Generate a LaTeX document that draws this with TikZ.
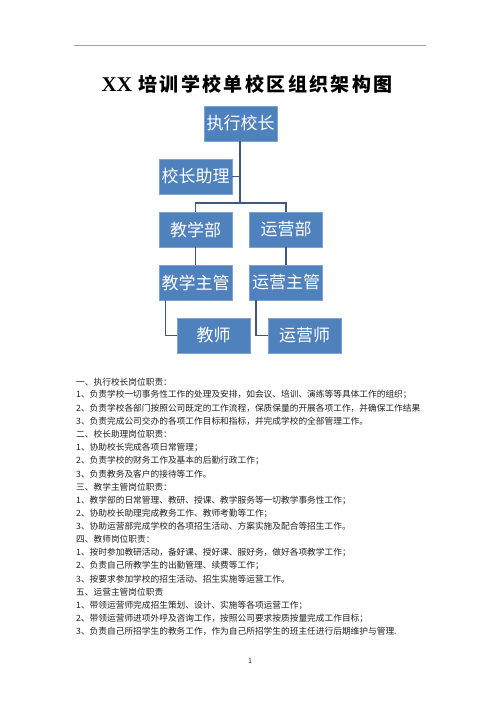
\documentclass[tikz,border=0pt]{standalone}
\usepackage{fontspec}
\setmainfont{Noto Sans CJK SC}
\newfontfamily\cjk{Noto Sans CJK SC}
\newfontfamily\latinserif{Liberation Serif}
\newcommand\titlechar[1]{\makebox[21.4pt]{#1}}
\definecolor{boxblue}{HTML}{4F81BD}
\definecolor{boxedge}{HTML}{7FA3D0}
\definecolor{linkc}{HTML}{3F587E}
\definecolor{bodytext}{HTML}{222222}
\begin{document}
\begin{tikzpicture}[x=1pt,y=-1pt,
  orgbox/.style={rectangle, fill=boxblue, draw=boxedge, line width=0.6pt,
    minimum width=73pt, minimum height=35pt, inner sep=0pt,
    text=white, font=\cjk\fontsize{17}{17}\selectfont},
  link/.style={draw=linkc, line width=1.6pt},
  bodyline/.style={anchor=west, inner sep=0pt, text=bodytext,
    font=\cjk\fontsize{8.7}{8.7}\selectfont}]
\useasboundingbox[fill=white] (0,0) rectangle (500,707);
% top rule
\coordinate (ruleL) at (74,45.7);
\coordinate (ruleR) at (426,45.7);
\draw[gray!70, line width=1pt] (ruleL) -- (ruleR);
% title
\node[inner sep=0pt, anchor=west, text=black] (title) at (101.5,84)
  {{\latinserif\bfseries\fontsize{21}{21}\selectfont XX}\hspace{5pt}{\cjk\bfseries\fontsize{19}{20}\selectfont
   \titlechar{培}\titlechar{训}\titlechar{学}\titlechar{校}\titlechar{单}\titlechar{校}\titlechar{区}\titlechar{组}\titlechar{织}\titlechar{架}\titlechar{构}\titlechar{图}}};
% boxes
\node[orgbox] (ceo) at (240.5,123.5) {执行校长};
\node[orgbox] (asst) at (195.5,176.5) {校长助理};
\node[orgbox] (tdept) at (195.5,229.5) {教学部};
\node[orgbox] (odept) at (286,229.5) {运营部};
\node[orgbox] (tmgr) at (195.5,282.5) {教学主管};
\node[orgbox] (omgr) at (286,282.5) {运营主管};
\node[orgbox] (teacher) at (213.5,335.5) {教师};
\node[orgbox] (ostaff) at (304.5,335.5) {运营师};
% connectors
\coordinate (branch) at (240,203);
\draw[link] (ceo.south -| branch) -- (branch);
\draw[link] (asst.east) -- (asst.east -| branch);
\draw[link] (tdept.north) |- (branch) -| (odept.north);
\draw[link] (tdept.south) -- (tmgr.north);
\draw[link] (odept.south) -- (omgr.north);
\draw[link] ([xshift=-30pt]tmgr.south) |- (teacher.west);
\draw[link] ([xshift=-30pt]omgr.south) |- (ostaff.west);
% body text
\foreach \i/\t in {
 0/{一、执行校长岗位职责：},
 1/{1、负责学校一切事务性工作的处理及安排，如会议、培训、演练等等具体工作的组织；},
 2/{2、负责学校各部门按照公司既定的工作流程，保质保量的开展各项工作，并确保工作结果},
 3/{3、负责完成公司交办的各项工作目标和指标，并完成学校的全部管理工作。},
 4/{二、校长助理岗位职责：},
 5/{1、协助校长完成各项日常管理；},
 6/{2、负责学校的财务工作及基本的后勤行政工作；},
 7/{3、负责教务及客户的接待等工作。},
 8/{三、教学主管岗位职责：},
 9/{1、教学部的日常管理、教研、授课、教学服务等一切教学事务性工作；},
 10/{2、协助校长助理完成教务工作、教师考勤等工作；},
 11/{3、协助运营部完成学校的各项招生活动、方案实施及配合等招生工作。},
 12/{四、教师岗位职责：},
 13/{1、按时参加教研活动，备好课、授好课、服好务，做好各项教学工作；},
 14/{2、负责自己所教学生的出勤管理、续费等工作；},
 15/{3、按要求参加学校的招生活动、招生实施等运营工作。},
 16/{五、运营主管岗位职责},
 17/{1、带领运营师完成招生策划、设计、实施等各项运营工作；},
 18/{2、带领运营师进项外呼及咨询工作，按照公司要求按质按量完成工作目标；},
 19/{3、负责自己所招学生的教务工作，作为自己所招学生的班主任进行后期维护与管理.}}
 {\node[bodyline] (line\i) at (76,381.7+13.16*\i) {\t};}
\node[inner sep=0pt, text=bodytext, font=\cjk\fontsize{7}{7}\selectfont] (pagenum) at (250,661) {1};
\end{tikzpicture}
\end{document}
